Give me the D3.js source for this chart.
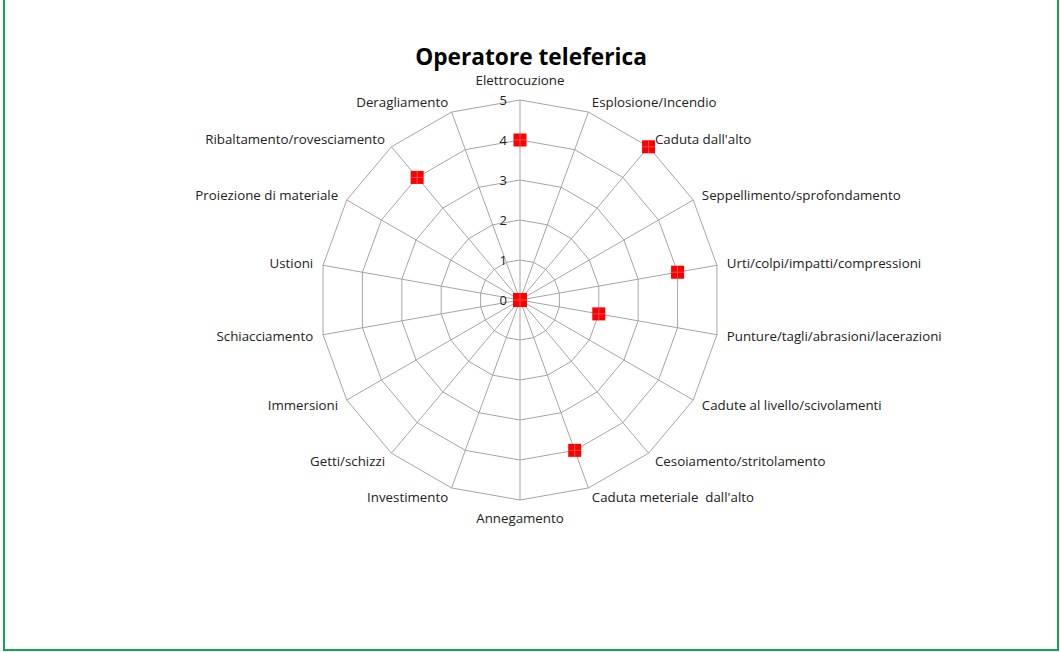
<!DOCTYPE html>
<html>
<head>
<meta charset="utf-8">
<title>Operatore teleferica</title>
<script src="https://d3js.org/d3.v7.min.js"></script>
<style>
body{margin:0;background:#fff;}
svg{display:block;font-family:"Open Sans",sans-serif;}
.grid{fill:none;stroke:#a6a6a6;stroke-width:1;}
.lbl{font-size:13.3px;fill:#222;white-space:pre;}
.tick{font-size:13px;fill:#222;}
</style>
</head>
<body>
<script>
// categorie in senso orario partendo dall'alto
var categories = ["Elettrocuzione","Esplosione/Incendio","Caduta dall'alto","Seppellimento/sprofondamento",
  "Urti/colpi/impatti/compressioni","Punture/tagli/abrasioni/lacerazioni","Cadute al livello/scivolamenti",
  "Cesoiamento/stritolamento","Caduta meteriale  dall'alto","Annegamento","Investimento","Getti/schizzi",
  "Immersioni","Schiacciamento","Ustioni","Proiezione di materiale","Ribaltamento/rovesciamento","Deragliamento"];
var values = [4,0,5,0,4,2,0,0,4,0,0,0,0,0,0,0,4,0];
var ticks = [0,1,2,3,4,5];

var W = 1060, H = 652, cx = 520, cy = 300, R = 200;

var svg = d3.select("body").append("svg").attr("width", W).attr("height", H);

// cornice verde (sinistra, destra, basso)
svg.append("path")
  .attr("d", "M4,0 V650 H1058 V0")
  .attr("fill", "none").attr("stroke", "#12a650").attr("stroke-width", 2);

var r = d3.scaleLinear().domain([0, 5]).range([0, R]);
var ang = d3.scalePoint().domain(d3.range(categories.length)).range([0, 2 * Math.PI * (categories.length - 1) / categories.length]);

function pt(i, v) {
  var a = ang(i);
  return [cx + r(v) * Math.sin(a), cy - r(v) * Math.cos(a)];
}

var g = svg.append("g");

// anelli poligonali
ticks.filter(function(t){ return t > 0; }).forEach(function(t) {
  g.append("polygon").attr("class", "grid")
    .attr("points", categories.map(function(c, i){ return pt(i, t).join(","); }).join(" "));
});

// raggi
categories.forEach(function(c, i) {
  var p = pt(i, 5);
  g.append("line").attr("class", "grid")
    .attr("x1", cx).attr("y1", cy).attr("x2", p[0]).attr("y2", p[1]);
});

// etichette asse
ticks.forEach(function(t) {
  g.append("text").attr("class", "tick")
    .attr("x", cx - 13).attr("y", cy - r(t)).attr("dy", "0.35em")
    .attr("text-anchor", "end").text(t);
});

// etichette categorie
categories.forEach(function(c, i) {
  var a = ang(i);
  var s = Math.sin(a), co = Math.cos(a);
  var d = 210;
  var x = cx + d * s, y = cy - d * co;
  if (Math.abs(s) < 0.01) y += co > 0 ? -10 : 8;
  g.append("text").attr("class", "lbl")
    .attr("x", x).attr("y", y).attr("dy", "0.35em")
    .attr("text-anchor", Math.abs(s) < 0.01 ? "middle" : (s > 0 ? "start" : "end"))
    .text(c);
});

// marcatori
var m = g.selectAll(".mk").data(values).enter().append("g").attr("class", "mk")
  .attr("transform", function(v, i){ var p = pt(i, v); return "translate(" + p[0] + "," + p[1] + ")"; });
m.append("rect").attr("x", -6.5).attr("y", -6.5).attr("width", 13).attr("height", 13).attr("fill", "#ff0000");
m.append("path").attr("d", "M-6.5,0H6.5M0,-6.5V6.5").attr("stroke", "#e85050").attr("stroke-width", 1);

// titolo
svg.append("text").attr("x", 531).attr("y", 57).attr("dy", "0.35em")
  .attr("text-anchor", "middle").attr("font-weight", "bold").attr("font-size", "22.7px")
  .attr("fill", "#000").text("Operatore teleferica");
</script>
</body>
</html>
